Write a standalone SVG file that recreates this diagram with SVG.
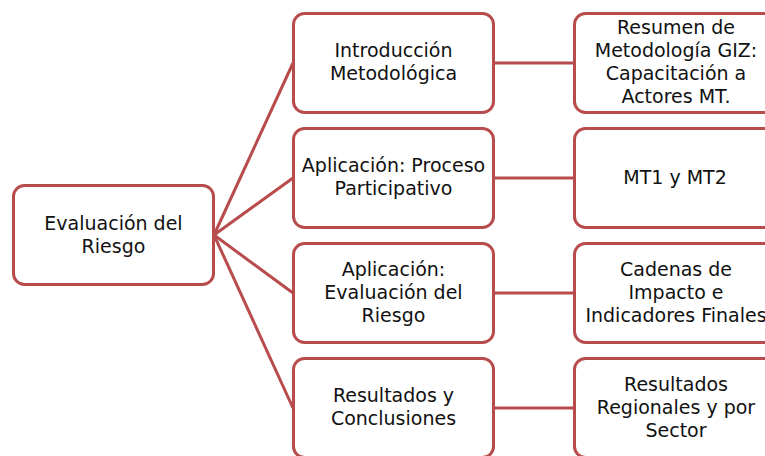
<svg xmlns="http://www.w3.org/2000/svg" width="765" height="456" viewBox="0 0 765 456">
<style>
.box{fill:#ffffff;stroke:#b84c4c;stroke-width:3}
.ln{stroke:#b84c4c;stroke-width:3;fill:none}
text{font-family:"DejaVu Sans","Noto Sans",sans-serif;font-size:19px;fill:#111111;text-anchor:middle}
</style>
<rect width="765" height="456" fill="#ffffff"/>
<g id="connectors">
<line class="ln" x1="214" y1="235" x2="293" y2="63"/>
<line class="ln" x1="214" y1="235" x2="293" y2="178"/>
<line class="ln" x1="214" y1="235" x2="293" y2="293"/>
<line class="ln" x1="214" y1="235" x2="293" y2="408"/>
<line class="ln" x1="494" y1="63" x2="574" y2="63"/>
<line class="ln" x1="494" y1="178" x2="574" y2="178"/>
<line class="ln" x1="494" y1="293" x2="574" y2="293"/>
<line class="ln" x1="494" y1="408" x2="574" y2="408"/>
</g>
<g id="root">
<rect class="box" x="13.5" y="185.5" width="200" height="99" rx="11"/>
<text x="113.5" y="230">Evaluación del</text>
<text x="113.5" y="253">Riesgo</text>
</g>
<g id="m1">
<rect class="box" x="293.5" y="13.5" width="200" height="99" rx="11"/>
<text x="393.5" y="57">Introducción</text>
<text x="393.5" y="80">Metodológica</text>
</g>
<g id="m2">
<rect class="box" x="293.5" y="128.5" width="200" height="99" rx="11"/>
<text x="393.5" y="172">Aplicación: Proceso</text>
<text x="393.5" y="195">Participativo</text>
</g>
<g id="m3">
<rect class="box" x="293.5" y="243.5" width="200" height="99" rx="11"/>
<text x="393.5" y="276">Aplicación:</text>
<text x="393.5" y="299">Evaluación del</text>
<text x="393.5" y="322">Riesgo</text>
</g>
<g id="m4">
<rect class="box" x="293.5" y="358.5" width="200" height="99" rx="11"/>
<text x="393.5" y="402">Resultados y</text>
<text x="393.5" y="425">Conclusiones</text>
</g>
<g id="r1">
<rect class="box" x="574.5" y="13.5" width="202" height="99" rx="11"/>
<text x="676" y="34">Resumen de</text>
<text x="676" y="57">Metodología GIZ:</text>
<text x="676" y="80">Capacitación a</text>
<text x="676" y="103">Actores MT.</text>
</g>
<g id="r2">
<rect class="box" x="574.5" y="128.5" width="202" height="99" rx="11"/>
<text x="675" y="184">MT1 y MT2</text>
</g>
<g id="r3">
<rect class="box" x="574.5" y="243.5" width="202" height="99" rx="11"/>
<text x="676" y="276">Cadenas de</text>
<text x="676" y="299">Impacto e</text>
<text x="676" y="322">Indicadores Finales</text>
</g>
<g id="r4">
<rect class="box" x="574.5" y="358.5" width="202" height="99" rx="11"/>
<text x="676" y="391">Resultados</text>
<text x="676" y="414">Regionales y por</text>
<text x="676" y="437">Sector</text>
</g>
</svg>
